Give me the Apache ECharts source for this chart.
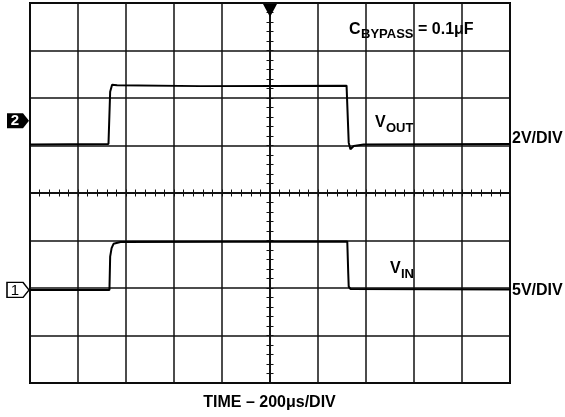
<!DOCTYPE html>
<html>
<head>
<meta charset="utf-8">
<script src="https://cdn.jsdelivr.net/npm/echarts@6/dist/echarts.min.js"></script>
<style>
  html, body { margin: 0; padding: 0; background: #fff; }
  #chart { width: 565px; height: 417px; }
</style>
</head>
<body>
<div id="chart"></div>
<script>
// time in microseconds (200us/div, 0 = screen centre), level in screen divisions (0 = centre)
var voutTime = [-1000, -673, -669, -666, -658, -651, -637, -290, 319, 328, 335, 349, 390, 1000];
var voutDiv  = [1.02, 1.03, 1.03, 2.13, 2.28, 2.31, 2.27, 2.25, 2.26, 1.06, 0.92, 0.99, 1.02, 1.03];

var vinTime = [-1000, -669, -666, -660, -652, -644, -623, 322, 326, 328, 335, 343, 1000];
var vinDiv  = [-2.04, -2.04, -1.34, -1.16, -1.07, -1.05, -1.03, -1.02, -1.69, -1.97, -2.02, -2.04, -2.03];

// channel ground markers (division level) and trigger position (time)
var ch2Marker = 1.52;
var ch1Marker = -2.04;
var triggerTime = 0;

var FONT = '"Liberation Sans", Arial, Helvetica, sans-serif';

function zip(xs, ys) {
    return xs.map(function (x, i) { return [x, ys[i]]; });
}

var chart = echarts.init(document.getElementById('chart'), null, { renderer: 'canvas' });

var gridLine = { show: true, lineStyle: { color: '#111', width: 1.5 } };

function crossAxis(dim, inside) {
    return {
        type: 'value',
        min: dim == 'x' ? -1000 : -4,
        max: dim == 'x' ? 1000 : 4,
        interval: dim == 'x' ? 40 : 0.2,
        position: dim == 'x' ? 'bottom' : 'left',
        axisLine: { show: true, onZero: true, onZeroAxisIndex: 0, lineStyle: { color: '#111', width: 1.5 } },
        axisTick: { show: true, inside: inside, length: 3.5, lineStyle: { color: '#111', width: 1 } },
        axisLabel: { show: false },
        splitLine: { show: false }
    };
}

var markerPath = 'path://M0,0 L16,0 L22,7.5 L16,15 L0,15 Z';

var option = {
    animation: false,
    backgroundColor: '#fff',
    grid: {
        left: 30, top: 3, width: 480, height: 380,
        show: true, borderColor: '#000', borderWidth: 2, backgroundColor: 'transparent'
    },
    xAxis: [
        {
            type: 'value', min: -1000, max: 1000, interval: 200,
            axisLine: { show: false }, axisTick: { show: false }, axisLabel: { show: false },
            splitLine: gridLine
        },
        crossAxis('x', true),
        crossAxis('x', false)
    ],
    yAxis: [
        {
            type: 'value', min: -4, max: 4, interval: 1,
            axisLine: { show: false }, axisTick: { show: false }, axisLabel: { show: false },
            splitLine: gridLine
        },
        crossAxis('y', true),
        crossAxis('y', false)
    ],
    series: [
        {
            name: 'VOUT', type: 'line', data: zip(voutTime, voutDiv),
            showSymbol: false, symbol: 'none',
            lineStyle: { color: '#000', width: 2 }, z: 5,
            markPoint: {
                symbol: markerPath,
                symbolSize: [22, 15],
                symbolKeepAspect: false,
                itemStyle: { color: '#000' },
                label: { show: true, color: '#fff', fontFamily: FONT, fontWeight: 'bold', fontSize: 15, offset: [-3, 0.5] },
                data: [
                    { coord: [-1000, ch2Marker], symbolOffset: [-12, 0], value: '2' },
                    {
                        coord: [triggerTime, 4], symbol: 'path://M0,0 L14,0 L7,13 Z', symbolSize: [14, 13],
                        symbolOffset: [0, 7.5], label: { show: false }
                    }
                ]
            }
        },
        {
            name: 'VIN', type: 'line', data: zip(vinTime, vinDiv),
            showSymbol: false, symbol: 'none',
            lineStyle: { color: '#000', width: 2 }, z: 5,
            markPoint: {
                symbol: markerPath,
                symbolSize: [22, 15],
                symbolKeepAspect: false,
                itemStyle: { color: '#fff', borderColor: '#000', borderWidth: 1.3 },
                label: { show: true, color: '#000', fontFamily: FONT, fontSize: 15, offset: [-3, 0.5] },
                data: [
                    { coord: [-1000, ch1Marker], symbolOffset: [-12, 0], value: '1' }
                ]
            }
        }
    ],
    graphic: [
        { type: 'text', x: 349, y: 29.5, style: { text: 'C', font: 'bold 16px ' + FONT, fill: '#000', verticalAlign: 'middle' } },
        { type: 'text', x: 361, y: 34.5, style: { text: 'BYPASS', font: 'bold 13px ' + FONT, fill: '#000', verticalAlign: 'middle' } },
        { type: 'text', x: 418, y: 29.5, style: { text: '= 0.1μF', font: 'bold 16px ' + FONT, fill: '#000', verticalAlign: 'middle' } },

        { type: 'text', x: 375, y: 123, style: { text: 'V', font: 'bold 16px ' + FONT, fill: '#000', verticalAlign: 'middle' } },
        { type: 'text', x: 386, y: 128, style: { text: 'OUT', font: 'bold 13px ' + FONT, fill: '#000', verticalAlign: 'middle' } },

        { type: 'text', x: 390, y: 269, style: { text: 'V', font: 'bold 16px ' + FONT, fill: '#000', verticalAlign: 'middle' } },
        { type: 'text', x: 401, y: 274.5, style: { text: 'IN', font: 'bold 13px ' + FONT, fill: '#000', verticalAlign: 'middle' } },

        { type: 'text', x: 512, y: 138.5, style: { text: '2V/DIV', font: 'bold 16px ' + FONT, fill: '#000', verticalAlign: 'middle' } },
        { type: 'text', x: 512, y: 290.5, style: { text: '5V/DIV', font: 'bold 16px ' + FONT, fill: '#000', verticalAlign: 'middle' } },

        { type: 'text', x: 269.5, y: 403, style: { text: 'TIME – 200μs/DIV', font: 'bold 16px ' + FONT, fill: '#000', align: 'center', verticalAlign: 'middle' } }
    ]
};

chart.setOption(option);
</script>
</body>
</html>
